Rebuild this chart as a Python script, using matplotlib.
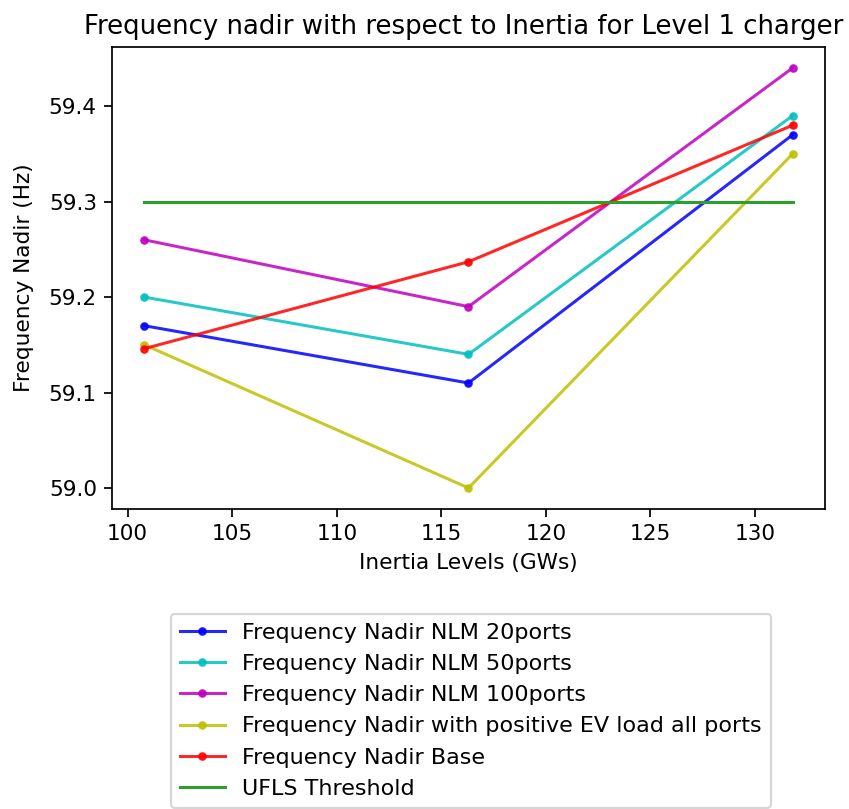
import matplotlib
matplotlib.use("Agg")
import matplotlib.pyplot as plt

inertia = [100.8, 116.3, 131.8]
nlm20 = [59.17, 59.11, 59.37]
nlm50 = [59.20, 59.14, 59.39]
nlm100 = [59.26, 59.19, 59.44]
positive_ev = [59.15, 59.00, 59.35]
base = [59.146, 59.237, 59.38]
ufls = [59.3, 59.3, 59.3]

series = [
    ("Frequency Nadir NLM 20ports", nlm20, "b"),
    ("Frequency Nadir NLM 50ports", nlm50, "c"),
    ("Frequency Nadir NLM 100ports", nlm100, "m"),
    ("Frequency Nadir with positive EV load all ports", positive_ev, "y"),
    ("Frequency Nadir Base", base, "r"),
]

D = 156
fig = plt.figure(figsize=(849 / D, 809 / D), dpi=D)
ax = fig.add_axes([112 / 849, 1 - 509 / 809, (825 - 112) / 849, (509 - 47) / 809])

for label, vals, col in series:
    ax.plot(inertia, vals, color=col, marker=".", markersize=6, lw=1.4, alpha=0.85, label=label)
ax.plot(inertia, ufls, color="tab:green", lw=1.4, label="UFLS Threshold")

ax.set_title("Frequency nadir with respect to Inertia for Level 1 charger", fontsize=12, x=0.493)
ax.set_xlabel("Inertia Levels (GWs)", fontsize=10)
ax.set_ylabel("Frequency Nadir (Hz)", fontsize=10, labelpad=7)
ax.tick_params(labelsize=10)

ax.legend(loc="upper center", bbox_to_anchor=(471 / 849, 1 - 614 / 809),
          bbox_transform=fig.transFigure, fontsize=10.3, borderaxespad=0)

fig.savefig("out.png", dpi=D)
